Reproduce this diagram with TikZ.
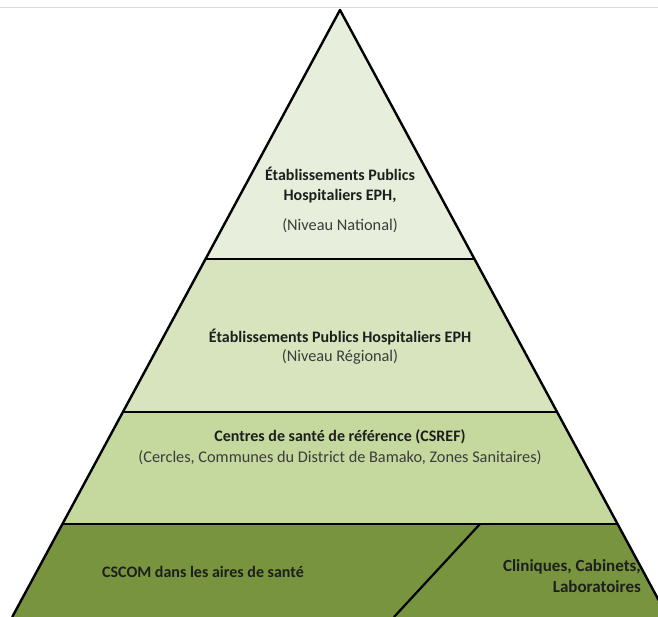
\documentclass[tikz,border=0pt]{standalone}
\usepackage{fontspec}
\setmainfont{Carlito}
\definecolor{lvlA}{RGB}{231,238,219}
\definecolor{lvlB}{RGB}{216,228,189}
\definecolor{lvlC}{RGB}{197,216,157}
\definecolor{lvlD}{RGB}{120,148,62}
\definecolor{txtA}{RGB}{30,30,30}
\definecolor{txtB}{RGB}{60,60,60}
\tikzset{
  band/.style={draw=none},
  edge/.style={draw=black,line width=2.4pt,line join=round},
  sep/.style={draw=black,line width=2.2pt},
  title/.style={font=\fontsize{16}{20}\selectfont\bfseries,text=txtA,align=center,inner sep=0pt},
  sub/.style={font=\fontsize{16.3}{20}\selectfont,text=txtB,align=center,inner sep=0pt}
}
\begin{document}
\begin{tikzpicture}[x=1pt,y=-1pt]
\useasboundingbox (0,0) rectangle (658,617);
\clip (0,0) rectangle (658,617);
\fill[white] (0,0) rectangle (658,617);
\draw[draw=black!15,line width=1pt] (0,8) -- (658,8);
% corners
\coordinate (apex) at (340,10);
\coordinate (l1) at (205.5,259); \coordinate (r1) at (474.5,259);
\coordinate (l2) at (123,412);   \coordinate (r2) at (557,412);
\coordinate (l3) at (62.4,524);  \coordinate (r3) at (617.6,524);
\coordinate (l4) at (12.2,617);  \coordinate (r4) at (667.8,617);
\coordinate (dtop) at (480,524); \coordinate (dbot) at (394,617);
% bands
\fill[lvlA,band] (apex) -- (r1) -- (l1) -- cycle;
\fill[lvlB,band] (l1) -- (r1) -- (r2) -- (l2) -- cycle;
\fill[lvlC,band] (l2) -- (r2) -- (r3) -- (l3) -- cycle;
\fill[lvlD,band] (l3) -- (r3) -- (r4) -- (l4) -- cycle;
% separators
\draw[sep] (l1) -- (r1);
\draw[sep] (l2) -- (r2);
\draw[sep] (l3) -- (r3);
\draw[sep] (dtop) -- (dbot);
% outline
\draw[edge] (l4) -- (apex) -- (r4);
% texts
\node[title] (n1) at (340,185) {Établissements Publics\\Hospitaliers EPH,};
\node[sub] (n1s) at (340,226) {(Niveau National)};
\node[title] (n2) at (340,337) {Établissements Publics Hospitaliers EPH};
\node[sub] (n2s) at (340,357) {(Niveau Régional)};
\node[title] (n3) at (340,437) {Centres de santé de référence (CSREF)};
\node[sub] (n3s) at (340,458) {(Cercles, Communes du District de Bamako, Zones Sanitaires)};
\node[title] (n4) at (203,572) {CSCOM dans les aires de santé};
\node[title,font=\fontsize{17}{21}\selectfont\bfseries,align=right,anchor=east] (n5) at (641,576) {Cliniques, Cabinets,\\Laboratoires};
\end{tikzpicture}
\end{document}
